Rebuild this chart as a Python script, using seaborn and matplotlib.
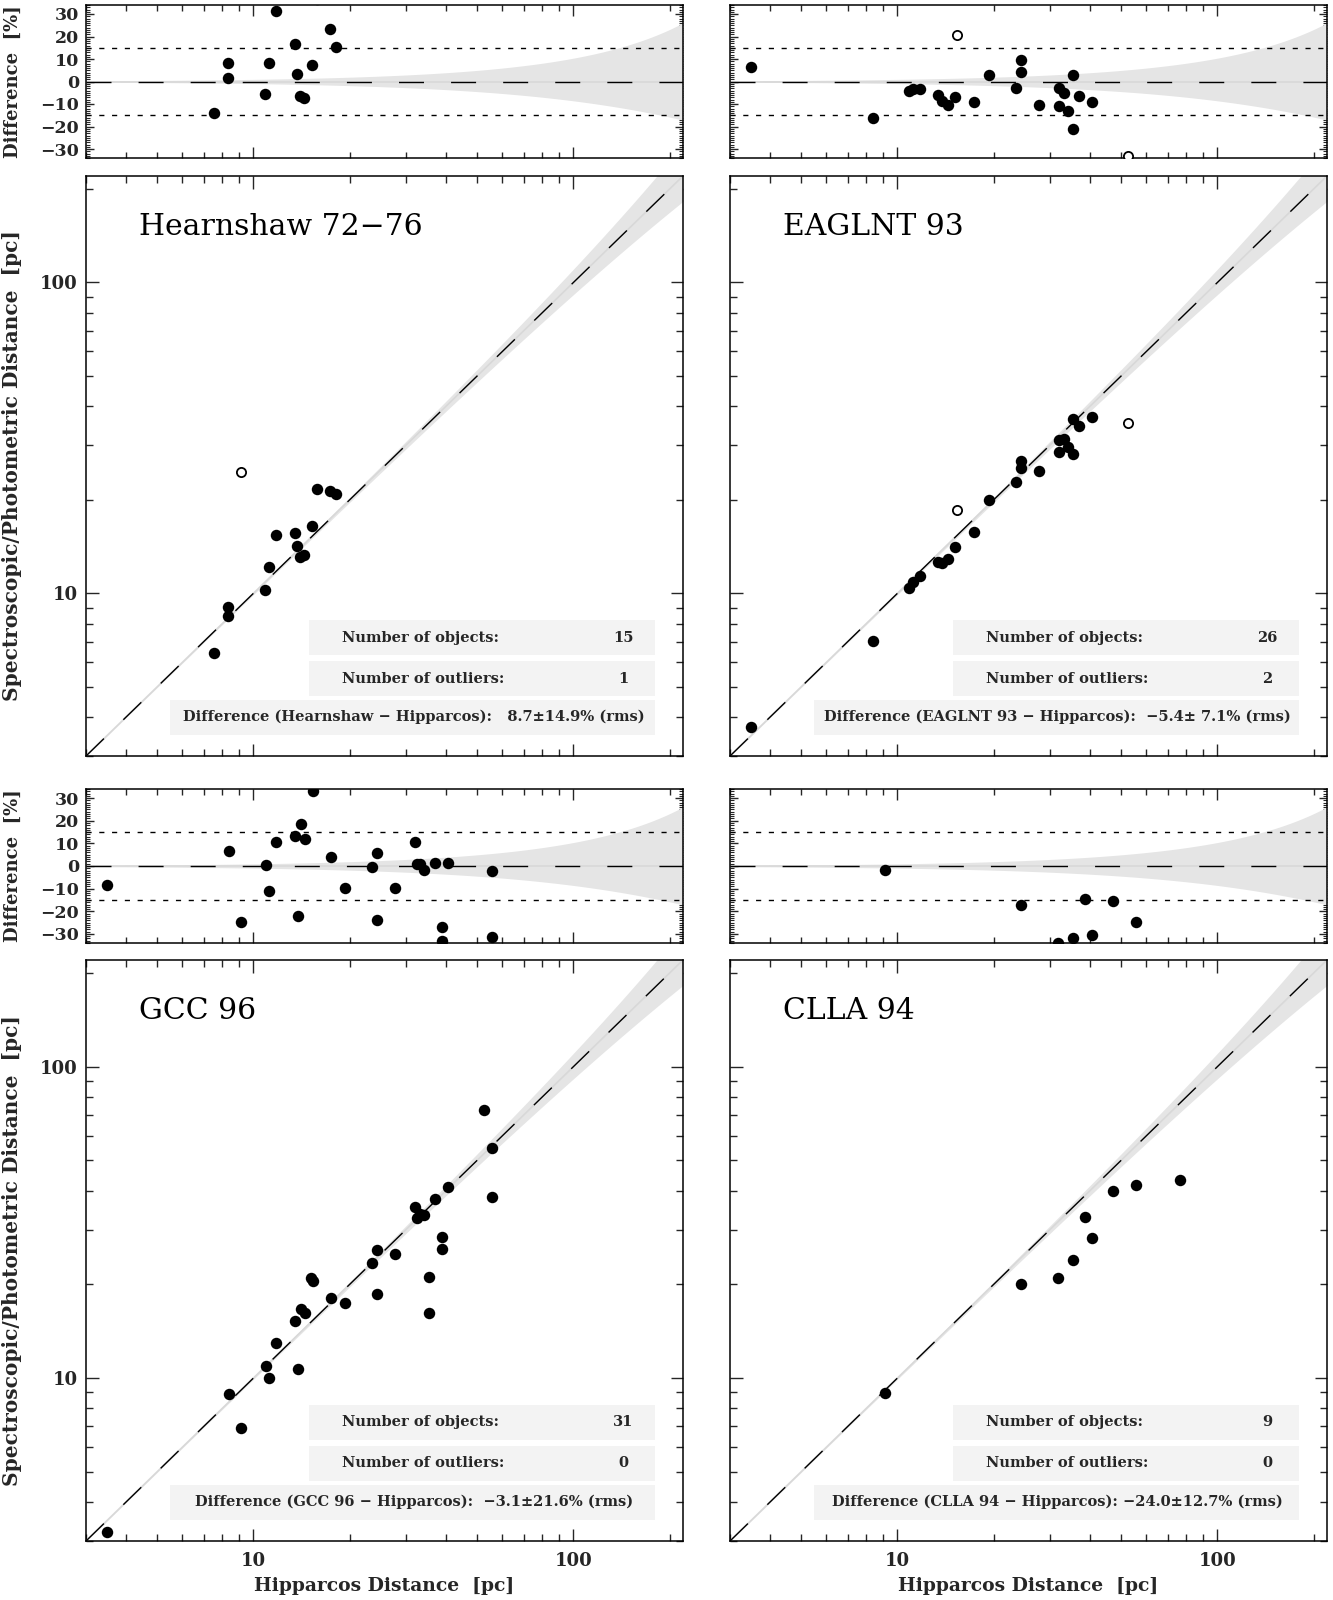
import numpy as np
import pandas as pd
import matplotlib
matplotlib.use("Agg")
import matplotlib.pyplot as plt
import seaborn as sns
from matplotlib.patches import Rectangle
from matplotlib.ticker import FixedLocator, NullFormatter, FuncFormatter, MultipleLocator

# ---------------- data ----------------
hearn_x = [7.51, 8.36, 8.36, 10.86, 11.20, 11.76, 13.45, 13.73, 14.00, 14.40, 15.30, 15.83, 17.34, 18.10]
hearn_y = [6.45, 8.49, 9.05, 10.24, 12.14, 15.46, 15.67, 14.21, 13.12, 13.33, 16.43, 21.60, 21.41, 20.87]
hearn_out_x = [9.14]
hearn_out_y = [24.6]

eaglnt_x = [3.50, 8.38, 10.91, 11.22, 11.77, 13.44, 13.76, 14.40, 15.11, 17.40, 19.39, 23.49,
            24.35, 24.35, 27.65, 31.92, 32.06, 33.08, 34.13, 35.30, 35.48, 37.03, 40.58]
eaglnt_y = [3.72, 7.01, 10.43, 10.86, 11.37, 12.66, 12.56, 12.92, 14.08, 15.80, 19.93, 22.79,
            25.40, 26.65, 24.72, 28.44, 31.16, 31.43, 29.59, 36.29, 28.03, 34.62, 36.85]
eaglnt_out_x = [15.37, 52.65]
eaglnt_out_y = [18.54, 35.24]

gcc_x = [3.50, 8.37, 9.15, 10.92, 11.22, 11.74, 13.46, 13.79, 14.08, 14.46, 15.10, 15.40, 17.44,
         19.39, 23.54, 24.41, 24.41, 27.79, 31.99, 32.38, 33.27, 34.06, 35.39, 35.39, 37.06,
         38.85, 38.85, 40.56, 52.70, 55.84, 55.84]
gcc_y = [3.21, 8.91, 6.90, 10.96, 9.98, 13.00, 15.26, 10.72, 16.67, 16.19, 21.04, 20.48, 18.15,
         17.49, 23.45, 25.76, 18.64, 25.07, 35.35, 32.73, 33.60, 33.40, 21.13, 16.19, 37.60,
         28.30, 26.00, 41.18, 72.60, 54.73, 38.24]
gcc_out_x = []
gcc_out_y = []

clla_x = [9.13, 24.29, 31.85, 35.30, 38.68, 40.49, 47.20, 55.55, 76.60]
clla_y = [8.97, 20.07, 21.03, 24.03, 32.98, 28.08, 39.90, 41.80, 43.15]
clla_out_x = []
clla_out_y = []

titles = ["Hearnshaw 72\u221276", "EAGLNT 93", "GCC 96", "CLLA 94"]
n_objects = ["15", "26", "31", "9"]
n_outliers = ["1", "2", "0", "0"]
diff_texts = ["Difference (Hearnshaw \u2212 Hipparcos):   8.7\u00b114.9% (rms)",
              "Difference (EAGLNT 93 \u2212 Hipparcos):  \u22125.4\u00b1 7.1% (rms)",
              "Difference (GCC 96 \u2212 Hipparcos):  \u22123.1\u00b121.6% (rms)",
              "Difference (CLLA 94 \u2212 Hipparcos): \u221224.0\u00b112.7% (rms)"]

parallax_err = 0.00094   # arcsec, envelope of Hipparcos parallax error
limits_pc = (3.0, 220.0)
diff_limits = (-34, 34)
diff_band_levels = [-15, 15]

# ---------------- style ----------------
sns.set_theme(style="ticks")
plt.rcParams['font.family'] = ['DejaVu Serif', 'DejaVu Sans']
plt.rcParams['axes.linewidth'] = 1.1
plt.rcParams['axes.edgecolor'] = 'black'

BAND = '#e5e5e5'
BOX = '#f3f3f3'

fig = plt.figure(figsize=(13.33, 16.0), dpi=100)

W = 1333.0
H = 1600.0
col_left = [86, 730]
col_w = 597
rows = [  # (diff_top, diff_bottom, main_top, main_bottom) in px
    (5, 158, 176, 756),
    (789, 943, 960, 1541),
]


def rect(x0, top, w, bottom):
    return [x0 / W, 1 - bottom / H, w / W, (bottom - top) / H]


datasets = [
    (hearn_x, hearn_y, hearn_out_x, hearn_out_y),
    (eaglnt_x, eaglnt_y, eaglnt_out_x, eaglnt_out_y),
    (gcc_x, gcc_y, gcc_out_x, gcc_out_y),
    (clla_x, clla_y, clla_out_x, clla_out_y),
]

xs = np.logspace(np.log10(limits_pc[0]), np.log10(limits_pc[1]), 300)
major_log = [10, 100]
minor_log = [3, 4, 5, 6, 7, 8, 9, 20, 30, 40, 50, 60, 70, 80, 90, 200]

LONGDASH = (0, (18, 19.5))
SHORTDASH = (0, (3.7, 5.5))
MS = 68

for i, (x, y, ox, oy) in enumerate(datasets):
    r, c = divmod(i, 2)
    dt, db, mt, mb = rows[r]
    axd = fig.add_axes(rect(col_left[c], dt, col_w, db))
    axm = fig.add_axes(rect(col_left[c], mt, col_w, mb))

    df = pd.DataFrame({"hip": x, "spec": y})
    df["diff"] = (df["spec"] / df["hip"] - 1.0) * 100.0
    dfo = pd.DataFrame({"hip": ox, "spec": oy})
    dfo["diff"] = (dfo["spec"] / dfo["hip"] - 1.0) * 100.0 if len(dfo) else []

    # ---------- difference panel ----------
    up = (1.0 / (1.0 - xs * parallax_err) - 1.0) * 100
    lo = (1.0 / (1.0 + xs * parallax_err) - 1.0) * 100
    axd.fill_between(xs, lo, up, color=BAND, lw=0, zorder=1)
    axd.axhline(0, color='#d8d8d8', lw=1.2, zorder=1.5)
    axd.axhline(0, color='black', lw=1.0, linestyle=LONGDASH, zorder=2)
    for lev in diff_band_levels:
        axd.axhline(lev, color='black', lw=1.0, linestyle=SHORTDASH, zorder=2)
    sns.scatterplot(data=df, x="hip", y="diff", ax=axd, color='black', s=MS,
                    linewidth=0, zorder=5, legend=False)
    if len(dfo):
        sns.scatterplot(data=dfo, x="hip", y="diff", ax=axd, marker='o', s=44,
                        facecolor='white', edgecolor='black', linewidth=1.3,
                        zorder=5, legend=False)
    axd.set_xscale('log')
    axd.set_xlim(*limits_pc)
    axd.set_ylim(*diff_limits)
    axd.xaxis.set_major_locator(FixedLocator(major_log))
    axd.xaxis.set_minor_locator(FixedLocator(minor_log))
    axd.xaxis.set_major_formatter(NullFormatter())
    axd.xaxis.set_minor_formatter(NullFormatter())
    axd.yaxis.set_major_locator(FixedLocator([-30, -20, -10, 0, 10, 20, 30]))
    axd.yaxis.set_minor_locator(MultipleLocator(1))
    axd.tick_params(axis='x', which='major', direction='in', length=8, width=1.0,
                    top=True, bottom=True)
    axd.tick_params(axis='x', which='minor', direction='in', length=4, width=1.0,
                    top=True, bottom=True)
    axd.tick_params(axis='y', which='major', direction='in', length=6, width=1.0,
                    left=True, right=True, labelsize=12.5, pad=5)
    axd.tick_params(axis='y', which='minor', direction='in', length=3, width=0.8,
                    left=True, right=True)
    axd.set_xlabel('')
    if c == 0:
        axd.yaxis.set_major_formatter(FuncFormatter(
            lambda v, p: f"{int(v)}".replace('-', '\u2212')))
        for t in axd.get_yticklabels():
            t.set_fontweight('bold')
        axd.set_ylabel("Difference  [%]", fontsize=13, fontweight='bold')
        axd.yaxis.set_label_coords(-0.108, 0.5)
    else:
        axd.yaxis.set_major_formatter(NullFormatter())
        axd.set_ylabel('')

    # ---------- main panel ----------
    axm.fill_between(xs, xs / (1 + xs * parallax_err), xs / (1 - xs * parallax_err),
                     color=BAND, lw=0, zorder=1)
    axm.plot(xs, xs, color='#d8d8d8', lw=1.2, zorder=1.5)
    axm.plot(xs, xs, color='black', lw=1.0, linestyle=LONGDASH, zorder=2)
    sns.scatterplot(data=df, x="hip", y="spec", ax=axm, color='black', s=MS,
                    linewidth=0, zorder=5, legend=False)
    if len(dfo):
        sns.scatterplot(data=dfo, x="hip", y="spec", ax=axm, marker='o', s=44,
                        facecolor='white', edgecolor='black', linewidth=1.3,
                        zorder=5, legend=False)
    axm.set_xscale('log')
    axm.set_yscale('log')
    axm.set_xlim(*limits_pc)
    axm.set_ylim(*limits_pc)
    for ax_ in (axm.xaxis, axm.yaxis):
        ax_.set_major_locator(FixedLocator(major_log))
        ax_.set_minor_locator(FixedLocator(minor_log))
        ax_.set_minor_formatter(NullFormatter())
    axm.tick_params(which='major', direction='in', length=9, width=1.0,
                    top=True, right=True, labelsize=13)
    axm.tick_params(which='minor', direction='in', length=5, width=1.0,
                    top=True, right=True)
    axm.tick_params(axis='x', which='major', pad=8)
    axm.tick_params(axis='y', which='major', pad=6)

    fmt = FuncFormatter(lambda v, p: f"{int(round(v))}")
    if r == 1:
        axm.xaxis.set_major_formatter(fmt)
        axm.set_xlabel("Hipparcos Distance  [pc]", fontsize=13.5, fontweight='bold',
                       labelpad=5)
    else:
        axm.xaxis.set_major_formatter(NullFormatter())
        axm.set_xlabel('')
    if c == 0:
        axm.yaxis.set_major_formatter(fmt)
        axm.set_ylabel("Spectroscopic/Photometric Distance  [pc]", fontsize=14.5,
                       fontweight='bold')
        axm.yaxis.set_label_coords(-0.108, 0.5)
    else:
        axm.yaxis.set_major_formatter(NullFormatter())
        axm.set_ylabel('')
    for t in axm.get_xticklabels() + axm.get_yticklabels():
        t.set_fontweight('bold')

    # title
    axm.text(0.089, 0.912, titles[i], transform=axm.transAxes, fontsize=21.5,
             ha='left', va='center', color='black')

    # info boxes
    boxes = [
        (0.374, 0.174, 0.953 - 0.374, 0.2337 - 0.174),
        (0.374, 0.1037, 0.953 - 0.374, 0.1634 - 0.1037),
        (0.141, 0.0369, 0.953 - 0.141, 0.0967 - 0.0369),
    ]
    for (bx, by, bw, bh) in boxes:
        axm.add_patch(Rectangle((bx, by), bw, bh, transform=axm.transAxes,
                                facecolor=BOX, edgecolor='none', zorder=3))
    kw = dict(transform=axm.transAxes, fontsize=10.5, fontweight='bold',
              va='center', zorder=4)
    axm.text(0.429, 0.204, "Number of objects:", ha='left', **kw)
    axm.text(0.900, 0.204, n_objects[i], ha='center', **kw)
    axm.text(0.429, 0.1335, "Number of outliers:", ha='left', **kw)
    axm.text(0.900, 0.1335, n_outliers[i], ha='center', **kw)
    axm.text(0.549, 0.0668, diff_texts[i], ha='center', **kw)

fig.savefig("out.png", dpi=100)
